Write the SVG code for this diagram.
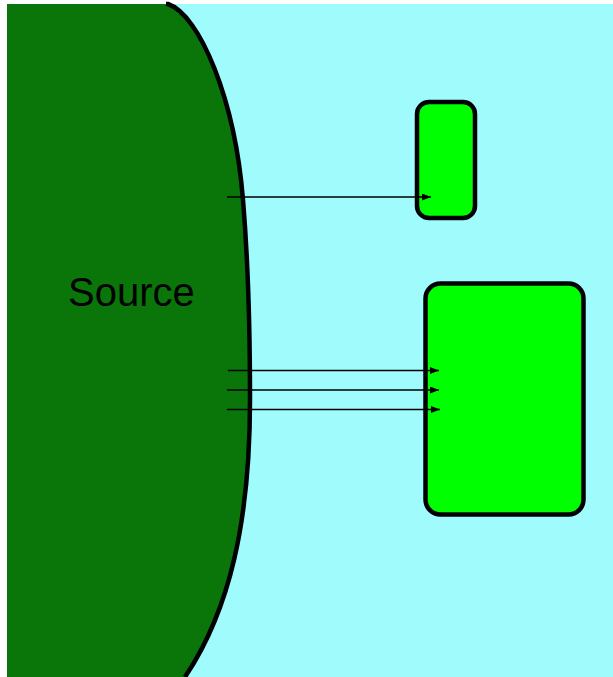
<svg xmlns="http://www.w3.org/2000/svg" width="613" height="677" viewBox="0 0 613 677">
<defs>
<style>
.box{fill:#00ff00;stroke:#000;stroke-width:4.5}
.conn{stroke:#000;stroke-width:1.7;fill:none;marker-end:url(#ah)}
.lbl{font-family:"Liberation Sans",Arial,sans-serif;font-size:40px;fill:#000}
</style>
<marker id="ah" viewBox="0 0 9 7" refX="9" refY="3.5" markerWidth="9" markerHeight="7" markerUnits="userSpaceOnUse" orient="auto">
<path d="M0,0 L9,3.5 L0,7 Z" fill="#000"/>
</marker>
</defs>
<rect x="0" y="0" width="613" height="677" fill="#fff"/>
<rect x="7" y="4" width="606" height="673" fill="#a0fcfc"/>
<g id="source">
<path d="M7,4 L168,4 C200,15 235,100 243,200 C248,260 250,330 250,400 C250,520 230,610 185,677 L7,677 Z" fill="#0a760a"/>
<path d="M166,4 L168,4 C200,15 235,100 243,200 C248,260 250,330 250,400 C250,520 230,610 185,677" fill="none" stroke="#000" stroke-width="4.5"/>
<text class="lbl" x="68" y="306">Source</text>
</g>
<g id="small-box">
<rect class="box" x="417" y="102" width="58" height="116" rx="12"/>
</g>
<g id="large-box">
<rect class="box" x="425.5" y="283.5" width="158" height="231" rx="15"/>
</g>
<g id="connectors">
<line class="conn" x1="227" y1="197" x2="431" y2="197"/>
<line class="conn" x1="228" y1="370.5" x2="439" y2="370.5"/>
<line class="conn" x1="227" y1="390" x2="439" y2="390"/>
<line class="conn" x1="227" y1="409.5" x2="440" y2="409.5"/>
</g>
</svg>
